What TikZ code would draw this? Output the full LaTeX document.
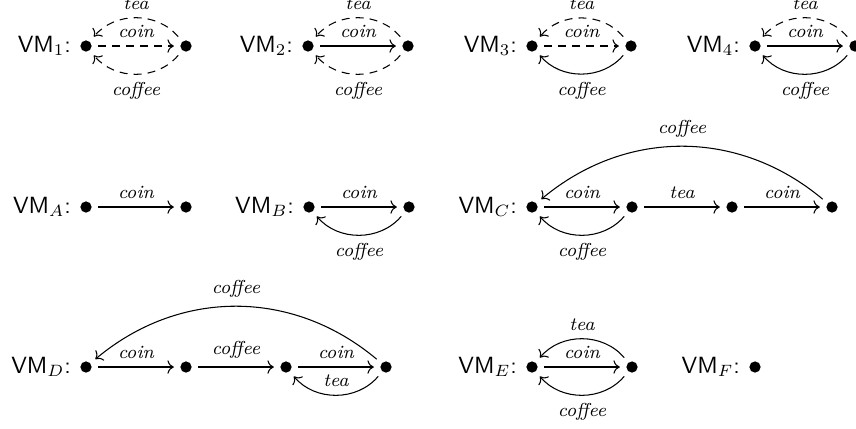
\documentclass[tikz,border=0pt]{standalone}
\usetikzlibrary{positioning,arrows.meta}
\newcommand\vmlab[1]{\textsf{VM}$_{#1}$\textsf{:}}
\begin{document}
\begin{tikzpicture}[x=0.015cm,y=-0.015cm,line width=0.45pt,
  >={To[scale=1.05]},
  st/.style={circle,fill,inner sep=0pt,minimum size=4.8pt,outer sep=2.8pt},
  vm/.style={left=0pt of #1, inner sep=1pt, font=\sffamily},
  lab/.style={font=\footnotesize\itshape, inner sep=3.4pt},
  tr/.style={->},
  dsh/.style={->,dash pattern=on 3.4pt off 2.6pt}]
\useasboundingbox (0,0) rectangle (856,428);
% row 1
\foreach \n/\x in {a1/86,b1/186,a2/308,b2/408,a3/532,b3/631,a4/755,b4/855}
  \node[st] (\n) at (\x,46) {};
\foreach \i in {1,2,3,4}
  \node[vm=a\i] (l\i) {\vmlab{\i}};
% VM1
\draw[dsh] (a1) -- node[lab,above]{coin} (b1);
\draw[dsh] (b1) to[bend right=50] node[lab,above]{tea} (a1);
\draw[dsh] (b1) to[bend left=50] node[lab,below]{coffee} (a1);
% VM2
\draw[tr] (a2) -- node[lab,above]{coin} (b2);
\draw[dsh] (b2) to[bend right=50] node[lab,above]{tea} (a2);
\draw[dsh] (b2) to[bend left=50] node[lab,below]{coffee} (a2);
% VM3
\draw[dsh] (a3) -- node[lab,above]{coin} (b3);
\draw[dsh] (b3) to[bend right=50] node[lab,above]{tea} (a3);
\draw[tr] (b3) to[bend left=50] node[lab,below]{coffee} (a3);
% VM4
\draw[tr] (a4) -- node[lab,above]{coin} (b4);
\draw[dsh] (b4) to[bend right=50] node[lab,above]{tea} (a4);
\draw[tr] (b4) to[bend left=50] node[lab,below]{coffee} (a4);
% row 2
\foreach \n/\x in {aA/86,bA/186,aB/309,bB/409,c1/532,c2/632,c3/732,c4/832}
  \node[st] (\n) at (\x,207) {};
\node[vm=aA] (lA) {\vmlab{A}};
\node[vm=aB] (lB) {\vmlab{B}};
\node[vm=c1] (lC) {\vmlab{C}};
\draw[tr] (aA) -- node[lab,above]{coin} (bA);
\draw[tr] (aB) -- node[lab,above]{coin} (bB);
\draw[tr] (bB) to[bend left=50] node[lab,below]{coffee} (aB);
\draw[tr] (c1) -- node[lab,above]{coin} (c2);
\draw[tr] (c2) -- node[lab,above]{tea} (c3);
\draw[tr] (c3) -- node[lab,above]{coin} (c4);
\draw[tr] (c2) to[bend left=50] node[lab,below]{coffee} (c1);
\draw[tr] (c4) to[bend right=40] node[lab,above]{coffee} (c1);
% row 3
\foreach \n/\x in {d1/86,d2/186,d3/286,d4/386,e1/532,e2/632,f1/755}
  \node[st] (\n) at (\x,367) {};
\node[vm=d1] (lD) {\vmlab{D}};
\node[vm=e1] (lE) {\vmlab{E}};
\node[vm=f1] (lF) {\vmlab{F}};
\draw[tr] (d1) -- node[lab,above]{coin} (d2);
\draw[tr] (d2) -- node[lab,above]{coffee} (d3);
\draw[tr] (d3) -- node[lab,above]{coin} (d4);
\draw[tr] (d4) to[bend left=50] node[lab,above]{tea} (d3);
\draw[tr] (d4) to[bend right=40] node[lab,above]{coffee} (d1);
\draw[tr] (e1) -- node[lab,above]{coin} (e2);
\draw[tr] (e2) to[bend right=50] node[lab,above]{tea} (e1);
\draw[tr] (e2) to[bend left=50] node[lab,below]{coffee} (e1);
\end{tikzpicture}
\end{document}
